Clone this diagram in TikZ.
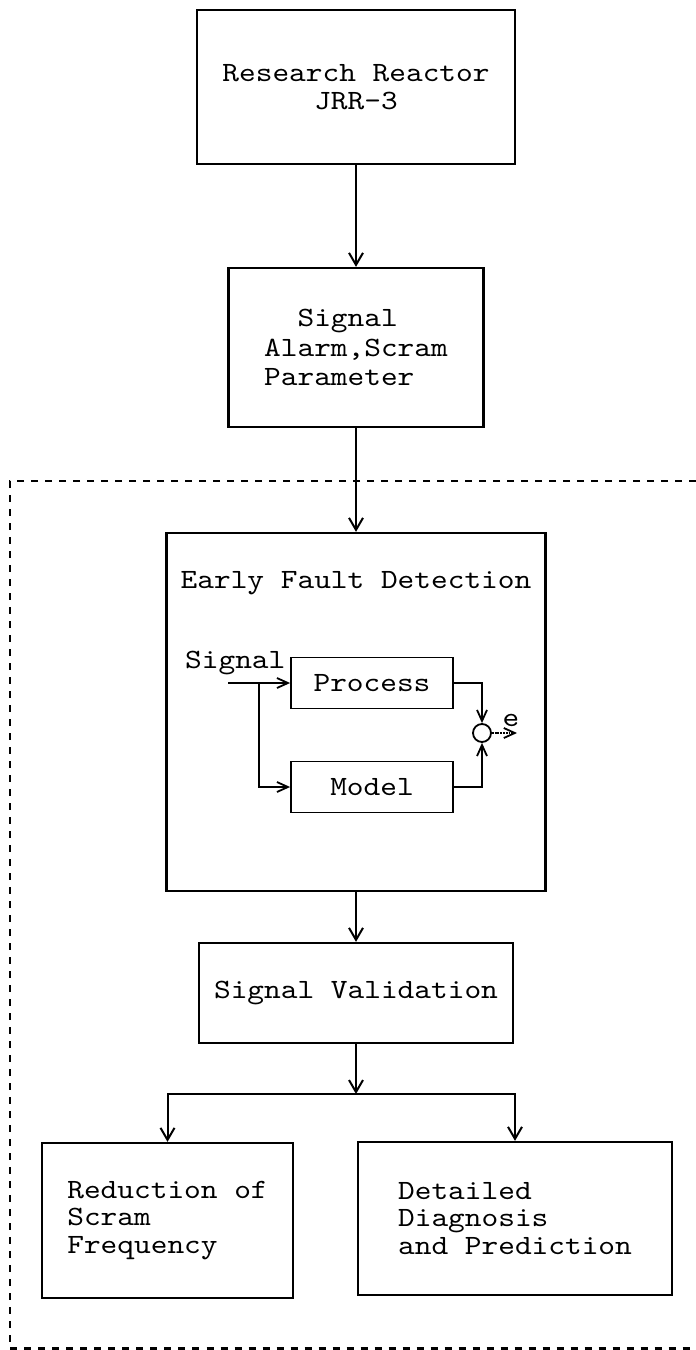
\documentclass[tikz,border=0pt]{standalone}
\usepackage{fontspec}
\setmonofont{lmmono10-regular.otf}[FakeStretch=1.14]
\usetikzlibrary{arrows.meta}

\begin{document}
\begin{tikzpicture}[
  >={Straight Barb[length=12bp,width=14bp]},
  every node/.style={font=\ttfamily\fontsize{28}{28}\selectfont},
  block/.style={draw,line width=2.3bp,inner sep=0pt},
  subblock/.style={draw,line width=1.8bp,inner sep=0pt,minimum width=162bp,minimum height=51bp},
  link/.style={->,line width=2bp},
  wire/.style={->,line width=1.8bp,>={Straight Barb[length=11bp,width=10bp]}},
  dashframe/.style={line width=2.3bp,dash pattern=on 7bp off 7bp}
]
\useasboundingbox (0bp,0bp) rectangle (696bp,-1350bp);

% reactor and its signals
\node (reactor) at (356bp,-87bp) [block,minimum width=318bp,minimum height=154bp,align=center] {Research Reactor\\JRR-3};
\node (signal) at (356bp,-347.5bp) [block,minimum width=255bp,minimum height=159bp,align=left,font=\ttfamily\fontsize{28}{29.5}\selectfont] {\phantom{xx}Signal\\Alarm,Scram\\Parameter};

% diagnosis system
\draw [dashframe] (696bp,-481bp) -| (10bp,-1348.5bp) -- (696bp,-1348.5bp);
\node (efd) at (356bp,-712bp) [block,minimum width=379bp,minimum height=358bp] {};
\node (efdtitle) at (356bp,-583bp) {Early Fault Detection};
\node (process) at (372bp,-683bp) [subblock] {Process};
\node (model) at (372bp,-787bp) [subblock] {Model};
\node (sum) at (482bp,-733bp) [draw,circle,line width=1.8bp,minimum size=18bp,inner sep=0pt] {};
\node (sigin) at (185bp,-668bp) [anchor=base west,inner sep=0pt] {Signal};
\node (err) at (511bp,-720bp) [inner sep=0pt] {e};
\coordinate (sigstart) at (228bp,-683bp);
\coordinate (fork) at (259bp,-683bp);
\coordinate (eout) at (517bp,-733bp);
\node (valid) at (356bp,-993bp) [block,minimum width=314bp,minimum height=100bp] {Signal Validation};
\coordinate (split) at (356bp,-1094bp);
\node (reduction) at (167.5bp,-1220.5bp) [block,minimum width=251bp,minimum height=155bp,align=left] {Reduction of\\Scram\\Frequency};
\node (diagnosis) at (515bp,-1218.5bp) [block,minimum width=314bp,minimum height=153bp,align=left] {Detailed\\Diagnosis\\and Prediction};

\draw [link] (reactor) -- (signal);
\draw [link] (signal) -- (efd);
\draw [wire] (sigstart) -- (process);
\draw [wire] (fork) |- (model);
\draw [wire] (process) -| (sum);
\draw [wire] (model) -| (sum);
\draw [wire,densely dotted] (sum) -- (eout);
\draw [link] (efd) -- (valid);
\draw [link] (valid) -- (split);
\draw [link] (split) -| (reduction);
\draw [link] (split) -| (diagnosis);

\end{tikzpicture}
\end{document}
